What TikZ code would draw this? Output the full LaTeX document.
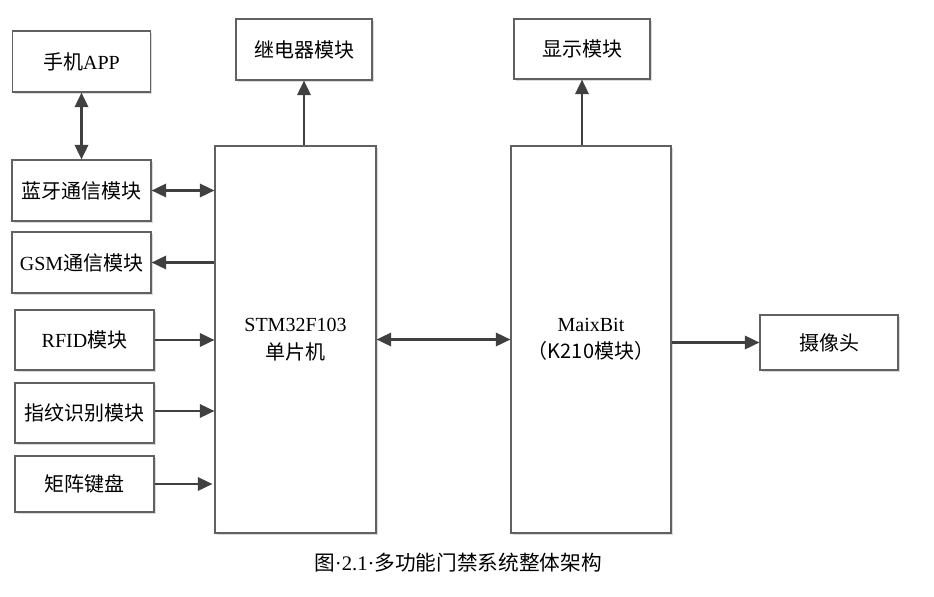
\documentclass[tikz,border=0pt]{standalone}
\usepackage{fontspec}
\setmainfont{Liberation Serif}
\newfontfamily\cjk{Noto Sans CJK SC}
\newcommand{\zh}[1]{{\cjk #1}}
\colorlet{BoxBorder}{black!62}
\colorlet{LinkLine}{black!75}
\usetikzlibrary{arrows.meta, shadows}

\tikzset{
  module/.style={draw=BoxBorder, line width=0.8pt, fill=white, inner sep=0pt,
    font=\fontsize{15}{20.5}\selectfont, align=center,
    drop shadow={shadow xshift=1.6pt, shadow yshift=-1.6pt, fill=black!14, opacity=1}},
  link/.style={draw=LinkLine, line width=1.9pt, -{Triangle[length=11pt,width=10pt]}},
  bilink/.style={link, {Triangle[length=11pt,width=10pt]}-{Triangle[length=11pt,width=10pt]}}
}

\begin{document}
\begin{tikzpicture}[x=0.75pt, y=-0.75pt]

\useasboundingbox (0,0) rectangle (934,596);

% left column
\node [module, minimum width=103pt, minimum height=45.75pt] (phone) at (81.5,61.5) {\zh{手机}APP};
\node [module, minimum width=104.25pt, minimum height=45.75pt] (bt) at (81.5,190.5) {\zh{蓝牙通信模块}};
\node [module, minimum width=104.25pt, minimum height=45.75pt] (gsm) at (81.5,262.5) {GSM\zh{通信模块}};
\node [module, minimum width=104.25pt, minimum height=45pt] (rfid) at (84.5,340) {RFID\zh{模块}};
\node [module, minimum width=104.25pt, minimum height=45pt] (finger) at (84.5,413) {\zh{指纹识别模块}};
\node [module, minimum width=104.25pt, minimum height=42pt] (keypad) at (84.5,484) {\zh{矩阵键盘}};

% controllers
\node [module, minimum width=120.75pt, minimum height=290.25pt] (mcu) at (295.5,339.5) {STM32F103\\\zh{单片机}};
\node [module, minimum width=120pt, minimum height=290.25pt] (k210) at (591,339.5) {MaixBit\\\zh{（K210模块）}};

% outputs
\node [module, minimum width=102pt, minimum height=45.75pt] (relay) at (304,49.5) {\zh{继电器模块}};
\node [module, minimum width=102pt, minimum height=45pt] (display) at (582,49) {\zh{显示模块}};
\node [module, minimum width=103.5pt, minimum height=41.25pt] (camera) at (829,342.5) {\zh{摄像头}};

% links
\draw [bilink] (phone) -- (bt);
\draw [bilink] (bt.east) -- (bt.east -| mcu.west);
\draw [link] (mcu.west |- gsm.east) -- (gsm.east);
\draw [link] (rfid.east) -- (rfid.east -| mcu.west);
\draw [link] (finger.east |- 0,411) coordinate (fingerout) -- (fingerout -| mcu.west);
\draw [link] (keypad.east) -- ([xshift=-1.5pt]keypad.east -| mcu.west);
\draw [link] (mcu.north -| relay.south) -- (relay.south);
\draw [bilink] (mcu.east) -- (k210.west);
\draw [link] (k210.north -| display.south) -- (display.south);
\draw [link] (k210.east |- camera.west) -- (camera.west);

\node [font=\fontsize{15.5}{18}\selectfont] (caption) at (458,563) {\zh{图}·2.1·\zh{多功能门禁系统整体架构}};

\end{tikzpicture}
\end{document}
